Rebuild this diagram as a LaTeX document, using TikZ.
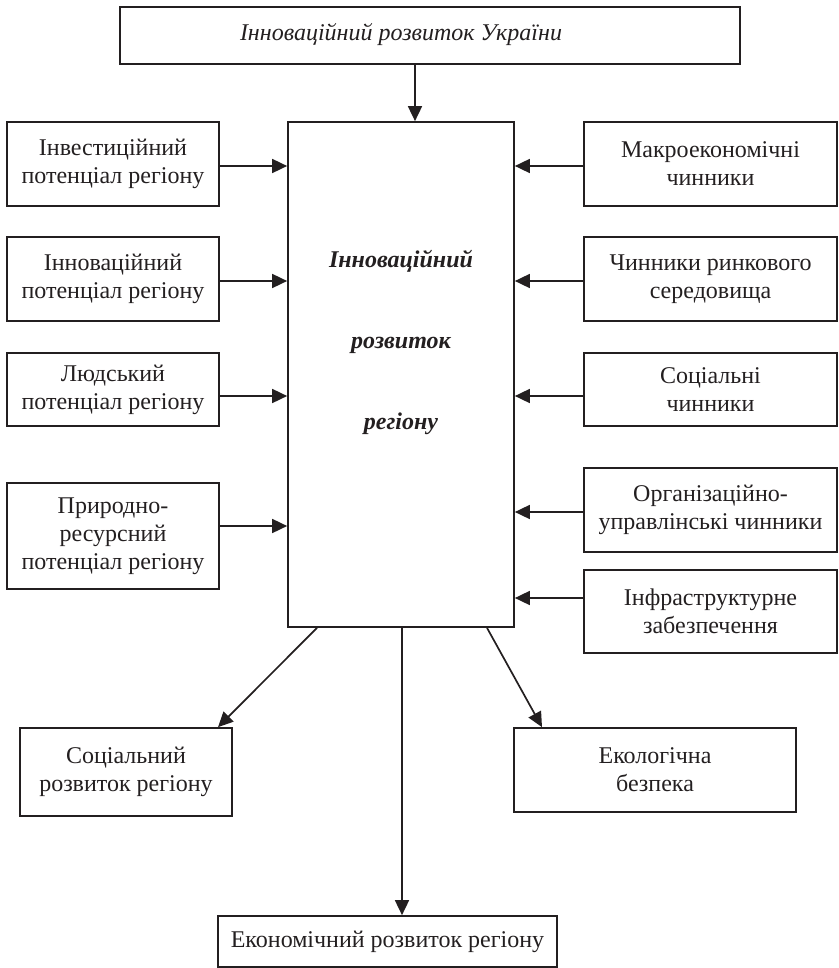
\documentclass[tikz,border=0pt]{standalone}
\usepackage{fontspec}
\setmainfont{Liberation Serif}
\usetikzlibrary{arrows.meta}
\definecolor{ink}{RGB}{35,31,32}
\tikzset{
  box/.style={draw=ink, line width=1.7pt, inner sep=0pt, align=center,
    text=ink, font=\fontsize{24}{28}\selectfont},
  lbl/.style={inner sep=0pt, align=center, text=ink},
  arr/.style={draw=ink, line width=1.7pt, -{Triangle[length=15pt,width=14pt]}}
}
\begin{document}
\begin{tikzpicture}[x=1pt, y=-1pt]
  \useasboundingbox (0,0) rectangle (838,968);

  % top box and the central box
  \node[box, minimum width=620pt, minimum height=57pt] (top) at (430,35.5) {};
  \node[lbl, font=\fontsize{24}{28}\selectfont\itshape] (toplbl) at (401,35)
    {Інноваційний розвиток України};
  \node[box, minimum width=226pt, minimum height=505pt] (c) at (401,374.5) {};
  \node[lbl, font=\fontsize{24}{81}\selectfont\bfseries\itshape] (clbl) at (401,342)
    {Інноваційний\\розвиток\\регіону};

  % left column: potentials
  \node[box, minimum width=212pt, minimum height=84pt] (l1) at (113,164)
    {Інвестиційний\\потенціал регіону};
  \node[box, minimum width=212pt, minimum height=84pt] (l2) at (113,279)
    {Інноваційний\\потенціал регіону};
  \node[box, minimum width=212pt, minimum height=73pt] (l3) at (113,389.5)
    {Людський\\потенціал регіону};
  \node[box, minimum width=212pt, minimum height=106pt] (l4) at (113,536)
    {Природно-\\ресурсний\\потенціал регіону};

  % right column: factors
  \node[box, minimum width=253pt, minimum height=84pt] (r1) at (710.5,164)
    {Макроекономічні\\чинники};
  \node[box, minimum width=253pt, minimum height=84pt] (r2) at (710.5,279)
    {Чинники ринкового\\середовища};
  \node[box, minimum width=253pt, minimum height=73pt] (r3) at (710.5,389.5)
    {Соціальні\\чинники};
  \node[box, minimum width=253pt, minimum height=84pt] (r4) at (710.5,510)
    {Організаційно-\\управлінські чинники};
  \node[box, minimum width=253pt, minimum height=83pt] (r5) at (710.5,611.5)
    {Інфраструктурне\\забезпечення};

  % outcomes
  \node[box, minimum width=212pt, minimum height=88pt] (soc) at (126,772)
    {Соціальний\\розвиток регіону};
  \node[box, minimum width=282pt, minimum height=84pt] (eco) at (655,770)
    {Екологічна\\безпека};
  \node[box, minimum width=339pt, minimum height=51pt] (econ) at (387.5,941.5)
    {Економічний розвиток регіону};

  % connector positions
  \coordinate (xa) at (415,0);
  \coordinate (ya1) at (0,166);
  \coordinate (ya2) at (0,281);
  \coordinate (ya3) at (0,396);
  \coordinate (ya4) at (0,526);
  \coordinate (yb4) at (0,512);
  \coordinate (yb5) at (0,598);
  \coordinate (xs1) at (317,0);
  \coordinate (xe1) at (218,0);
  \coordinate (xv) at (402,0);
  \coordinate (xs2) at (487,0);
  \coordinate (xe2) at (542,0);

  \draw[arr] (top.south -| xa) -- (c.north -| xa);

  \draw[arr] (l1.east |- ya1) -- (c.west |- ya1);
  \draw[arr] (l2.east |- ya2) -- (c.west |- ya2);
  \draw[arr] (l3.east |- ya3) -- (c.west |- ya3);
  \draw[arr] (l4.east |- ya4) -- (c.west |- ya4);

  \draw[arr] (r1.west |- ya1) -- (c.east |- ya1);
  \draw[arr] (r2.west |- ya2) -- (c.east |- ya2);
  \draw[arr] (r3.west |- ya3) -- (c.east |- ya3);
  \draw[arr] (r4.west |- yb4) -- (c.east |- yb4);
  \draw[arr] (r5.west |- yb5) -- (c.east |- yb5);

  \draw[arr] (c.south -| xs1) -- (soc.north -| xe1);
  \draw[arr] (c.south -| xv) -- (econ.north -| xv);
  \draw[arr] (c.south -| xs2) -- (eco.north -| xe2);
\end{tikzpicture}
\end{document}
